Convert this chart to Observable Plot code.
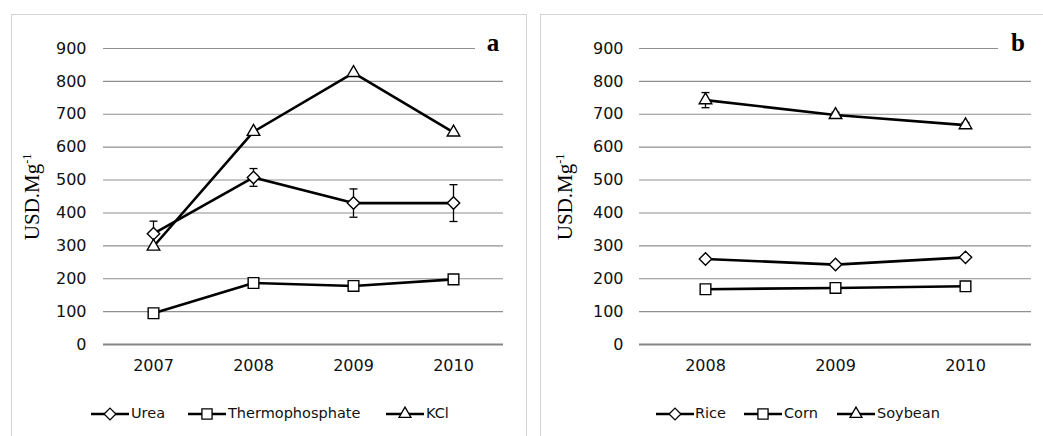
<!DOCTYPE html>
<html>
<head>
<meta charset="utf-8">
<script src="https://cdn.jsdelivr.net/npm/d3@7"></script>
<script src="https://cdn.jsdelivr.net/npm/@observablehq/plot@0.6"></script>
<style>
  html, body { margin: 0; padding: 0; background: #fff; }
  #root { position: relative; width: 1043px; height: 436px; overflow: hidden; background: #fff; font-family: "DejaVu Sans", sans-serif; }
  .panel { position: absolute; border: 1.5px solid #d4d4d4; box-sizing: border-box; }
  .plot { position: absolute; top: 0; }
  .ytitle { position: absolute; font-family: "Liberation Serif", serif; font-size: 21px; white-space: nowrap; transform: translate(-50%, -50%) rotate(-90deg); color: #000; }
  .ytitle sup { font-size: 12px; vertical-align: 0; position: relative; top: -8px; }
  .tag { position: absolute; background: #fff; font-family: "Liberation Serif", serif; font-weight: bold; font-size: 25px; color: #000; text-align: center; line-height: 20px; height: 22px; }
</style>
</head>
<body>
<div id="root"></div>
<script>
// ---- data ----
const yearsA = ["2007", "2008", "2009", "2010"];
const urea = [337, 508, 430, 430];
const ureaErr = [38, 27, 43, 56];
const thermophosphate = [95, 187, 178, 198];
const kcl = [298, 647, 826, 645];

const yearsB = ["2008", "2009", "2010"];
const rice = [260, 243, 265];
const corn = [168, 172, 177];
const soybean = [743, 698, 667];
const soybeanErr = [23, 8, 8];

const yTicks = [0, 100, 200, 300, 400, 500, 600, 700, 800, 900];
const seriesA = ["Urea", "Thermophosphate", "KCl"];
const seriesB = ["Rice", "Corn", "Soybean"];
const yTitle = "USD.Mg";
const yTitleSup = "-1";

// ---- helpers ----
const FONT = "'DejaVu Sans', sans-serif";
const FS = 14.5;     // legend
const AFS = 16;      // axis tick labels
const symbols = ["diamond2", "square2", "triangle2"];
const symbolR = {diamond2: 5.6, square2: 6.8, triangle2: 6.0};
const capSymbol = { draw(ctx) { ctx.moveTo(-4, 0); ctx.lineTo(4, 0); } };

function rows(years, names, arrays) {
  const out = [];
  names.forEach((n, i) => years.forEach((y, j) => out.push({series: n, year: y, value: arrays[i][j], idx: i})));
  return out;
}
function errRows(years, vals, errs) {
  return years.map((y, j) => ({year: y, lo: vals[j] - errs[j], hi: vals[j] + errs[j]}));
}

function makePanel({years, names, arrays, errs, width, height, marginLeft, marginRight, tickPad}) {
  const data = rows(years, names, arrays);
  const marks = [
    Plot.ruleY(yTicks.filter(d => d > 0), {stroke: "#8f8f8f", strokeWidth: 1.1}),
    Plot.ruleY([0], {stroke: "#868686", strokeWidth: 2}),
    Plot.axisX({tickSize: 0, tickPadding: 15, fill: "#111", fontSize: AFS}),
    Plot.axisY({ticks: yTicks, tickSize: 0, tickPadding: tickPad, fill: "#111", fontSize: AFS, label: null}),
    Plot.line(data, {x: "year", y: "value", z: "series", stroke: "#000", strokeWidth: 2.6})
  ];
  errs.forEach(e => {
    marks.push(Plot.ruleX(e, {x: "year", y1: "lo", y2: "hi", stroke: "#000", strokeWidth: 1.3}));
    marks.push(Plot.dot(e, {x: "year", y: "hi", symbol: capSymbol, fill: "none", stroke: "#000", strokeWidth: 1.3, r: 3}));
    marks.push(Plot.dot(e, {x: "year", y: "lo", symbol: capSymbol, fill: "none", stroke: "#000", strokeWidth: 1.3, r: 3}));
  });
  names.forEach((n, i) => {
    const s = symbols[i];
    marks.push(Plot.dot(data.filter(d => d.idx === i), {x: "year", y: "value", symbol: s, r: symbolR[s], fill: "#fff", stroke: "#000", strokeWidth: 1.4}));
  });
  return Plot.plot({
    width, height,
    marginLeft, marginRight, marginTop: 48, marginBottom: height - 344,
    style: {background: "transparent", fontFamily: FONT, fontSize: AFS + "px", overflow: "visible"},
    x: {type: "point", domain: years, padding: 0.5, label: null},
    y: {domain: [0, 900], label: null},
    marks
  });
}

function legendSwatch(sym) {
  const svg = d3.create("svg").attr("width", 38).attr("height", 20);
  svg.append("line").attr("x1", 0).attr("x2", 38).attr("y1", 10).attr("y2", 10).attr("stroke", "#000").attr("stroke-width", 2.4);
  const type = {diamond2: d3.symbolDiamond2, square2: d3.symbolSquare2, triangle2: d3.symbolTriangle2}[sym];
  const r = symbolR[sym] * 0.95;
  svg.append("path").attr("d", d3.symbol(type, r * r * Math.PI)()).attr("transform", "translate(19,10)")
    .attr("fill", "#fff").attr("stroke", "#000").attr("stroke-width", 1.3);
  return svg.node();
}

const root = document.getElementById("root");

// panel borders
const pa = document.createElement("div"); pa.className = "panel";
Object.assign(pa.style, {left: "11px", top: "14px", width: "516px", height: "440px"});
root.appendChild(pa);
const pb = document.createElement("div"); pb.className = "panel";
Object.assign(pb.style, {left: "540px", top: "14px", width: "520px", height: "440px"});
root.appendChild(pb);

// plots
const plotA = makePanel({years: yearsA, names: seriesA, arrays: [urea, thermophosphate, kcl],
  errs: [errRows(yearsA, urea, ureaErr)], width: 520, height: 392, marginLeft: 103, marginRight: 17, tickPad: 17});
plotA.classList.add("plot"); plotA.style.left = "0px";
root.appendChild(plotA);

const plotB = makePanel({years: yearsB, names: seriesB, arrays: [rice, corn, soybean],
  errs: [errRows(yearsB, soybean, soybeanErr)], width: 523, height: 392, marginLeft: 119, marginRight: 12, tickPad: 16});
plotB.classList.add("plot"); plotB.style.left = "520px";
root.appendChild(plotB);

// y titles
[[32], [565]].forEach(([x]) => {
  const t = document.createElement("div"); t.className = "ytitle";
  t.innerHTML = yTitle + "<sup>" + yTitleSup + "</sup>";
  Object.assign(t.style, {left: x + "px", top: "197px"});
  root.appendChild(t);
});

// panel tags
[["a", 475, 36], ["b", 998, 40]].forEach(([s, x, w]) => {
  const t = document.createElement("div"); t.className = "tag"; t.textContent = s;
  Object.assign(t.style, {left: x + "px", top: "33px", width: w + "px"});
  root.appendChild(t);
});

// legends
function legend(names, swX, txX) {
  names.forEach((n, i) => {
    const sw = legendSwatch(symbols[i]);
    sw.style.position = "absolute"; sw.style.left = swX[i] + "px"; sw.style.top = "404px";
    root.appendChild(sw);
    const sp = document.createElement("span"); sp.textContent = n;
    Object.assign(sp.style, {position: "absolute", left: txX[i] + "px", top: "403px", fontSize: FS + "px", lineHeight: "20px", color: "#111", whiteSpace: "nowrap", fontFamily: FONT});
    root.appendChild(sp);
  });
}
legend(seriesA, [91, 188, 386], [131, 228, 426]);
legend(seriesB, [656, 744, 837], [695, 784, 877]);
</script>
</body>
</html>
